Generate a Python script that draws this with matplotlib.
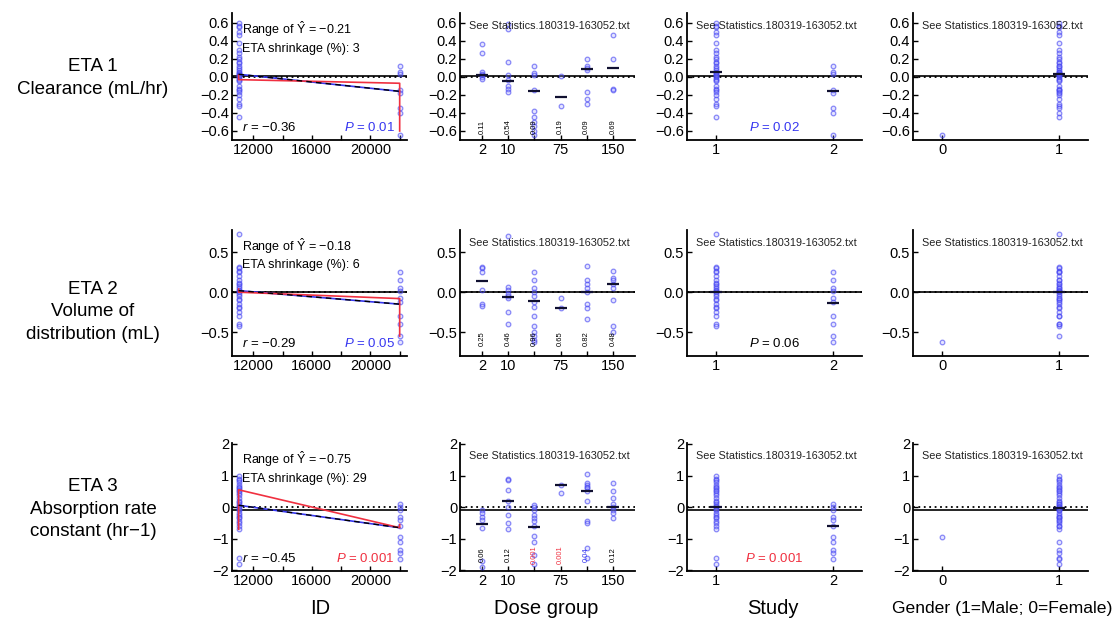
import numpy as np
import matplotlib.pyplot as plt
from matplotlib.ticker import MultipleLocator, FixedLocator, FuncFormatter

plt.rcParams['font.family'] = ['Liberation Sans', 'DejaVu Sans']
plt.rcParams['mathtext.fontset'] = 'custom'
plt.rcParams['mathtext.rm'] = 'Liberation Sans'
plt.rcParams['mathtext.it'] = 'Liberation Sans:italic'

# ---- data ----
dose_labels = ['2', '10', '', '75', '', '150']
study_x = [1, 2]
gender_x = [0, 1]
id_x = [11000, 22000]
stats_file = 'See Statistics.180319-163052.txt'

# ETA 1 - Clearance
eta1_study1 = [0.60, 0.57, 0.55, 0.50, 0.47, 0.38, 0.30, 0.27, 0.22, 0.20, 0.17, 0.15, 0.12,
               0.10, 0.08, 0.05, 0.04, 0.03, 0.02, 0.01, 0.00, -0.02, -0.03, -0.05, -0.10,
               -0.13, -0.15, -0.17, -0.20, -0.25, -0.30, -0.32, -0.45]
eta1_study2 = [0.12, 0.06, 0.03, -0.15, -0.18, -0.35, -0.40, -0.65]
eta1_gender0 = [-0.65]
eta1_dose = [[0.37, 0.27, 0.05, 0.03, 0.02, 0.00, -0.02],
             [0.59, 0.53, 0.17, 0.02, -0.03, -0.10, -0.13, -0.17],
             [0.12, 0.04, 0.02, -0.15, -0.38, -0.45, -0.50, -0.55, -0.60, -0.65],
             [0.01, -0.32],
             [0.20, 0.12, 0.10, 0.08, -0.17, -0.25, -0.30],
             [0.47, 0.20, -0.13, -0.15]]
eta1_dose_mid = [0.02, -0.04, -0.16, -0.22, 0.09, 0.10]
eta1_dose_p = [0.11, 0.54, 0.09, 0.19, 0.09, 0.69]
eta1_study_mid = [0.06, -0.16]
eta1_gender_mid = [None, 0.03]
eta1_fit = [0.03, -0.16]
eta1_smooth_y = [0.02, -0.03, -0.07, -0.60]
eta1_mean = 0.01
eta1_range = '-0.21'
eta1_shrink = 3
eta1_r = '-0.36'
eta1_p_id = 0.01
eta1_p_study = 0.02

# ETA 2 - Volume of distribution
eta2_study1 = [0.73, 0.32, 0.30, 0.27, 0.25, 0.20, 0.15, 0.12, 0.10, 0.08, 0.05, 0.03, 0.02,
               0.00, -0.02, -0.05, -0.08, -0.10, -0.15, -0.18, -0.20, -0.25, -0.30, -0.40, -0.43]
eta2_study2 = [0.25, 0.15, 0.05, 0.02, -0.07, -0.12, -0.30, -0.40, -0.55, -0.62]
eta2_gender0 = [-0.62]
eta2_dose = [[0.32, 0.30, 0.25, 0.03, -0.15, -0.17],
             [0.71, 0.07, 0.03, -0.02, -0.05, -0.07, -0.25, -0.40],
             [0.25, 0.15, 0.05, 0.00, -0.05, -0.12, -0.18, -0.30, -0.43, -0.50, -0.55, -0.60, -0.62],
             [-0.07, -0.20],
             [0.33, 0.15, 0.10, 0.05, 0.00, -0.15, -0.20, -0.33],
             [0.27, 0.18, 0.15, 0.10, 0.05, -0.10, -0.43, -0.50]]
eta2_dose_mid = [0.14, -0.06, -0.11, -0.20, 0.00, 0.10]
eta2_dose_p = [0.25, 0.46, 0.96, 0.65, 0.82, 0.48]
eta2_study_mid = [0.00, -0.13]
eta2_gender_mid = [None, 0.00]
eta2_fit = [0.02, -0.15]
eta2_smooth_y = [0.04, 0.00, -0.08, -0.55]
eta2_mean = 0.0
eta2_range = '-0.18'
eta2_shrink = 6
eta2_r = '-0.29'
eta2_p_id = 0.05
eta2_p_study = 0.06

# ETA 3 - Absorption rate constant
eta3_study1 = [1.00, 0.90, 0.85, 0.80, 0.70, 0.65, 0.60, 0.55, 0.50, 0.45, 0.40, 0.30, 0.20,
               0.15, 0.10, 0.05, 0.00, -0.05, -0.10, -0.20, -0.25, -0.30, -0.35, -0.45, -0.50,
               -0.60, -0.70, -1.60, -1.80]
eta3_study2 = [0.10, 0.00, -0.10, -0.30, -0.40, -0.60, -0.95, -1.10, -1.35, -1.45, -1.65]
eta3_gender0 = [-0.95]
eta3_dose = [[-0.10, -0.20, -0.30, -0.40, -0.65, -1.70, -1.90],
             [0.88, 0.85, 0.55, 0.20, 0.00, -0.25, -0.50, -0.70],
             [0.08, 0.02, -0.10, -0.25, -0.35, -0.45, -0.60, -0.90, -1.10, -1.50, -1.80],
             [0.70, 0.45],
             [1.05, 0.75, 0.70, 0.65, 0.60, 0.50, 0.20, -0.45, -0.50, -1.30, -1.60],
             [0.75, 0.50, 0.30, 0.10, 0.00, -0.10, -0.20, -0.35]]
eta3_dose_mid = [-0.53, 0.18, -0.62, 0.69, 0.50, 0.00]
eta3_dose_p = [0.06, 0.12, 0.001, 0.001, 0.04, 0.12]
eta3_study_mid = [0.00, -0.60]
eta3_gender_mid = [None, -0.03]
eta3_fit = [0.06, -0.65]
eta3_smooth_y = [-0.70, 0.55, -0.65, -0.55]
eta3_mean = -0.08
eta3_range = '-0.75'
eta3_shrink = 29
eta3_r = '-0.45'
eta3_p_id = 0.001
eta3_p_study = 0.001

row_titles = ['ETA 1\nClearance (mL/hr)', 'ETA 2\nVolume of\ndistribution (mL)',
              'ETA 3\nAbsorption rate\nconstant (hr\u22121)']
col_titles = ['ID', 'Dose group', 'Study', 'Gender (1=Male; 0=Female)']

rows = [
    dict(s1=eta1_study1, s2=eta1_study2, g0=eta1_gender0, dose=eta1_dose, dmid=eta1_dose_mid,
         dp=eta1_dose_p, smid=eta1_study_mid, gmid=eta1_gender_mid, fit=eta1_fit,
         smooth=eta1_smooth_y, mean=eta1_mean, rng=eta1_range, shrink=eta1_shrink, r=eta1_r,
         pid=eta1_p_id, pst=eta1_p_study, ylim=(-0.7, 0.71), ystep=0.2, fmt='%.1f', ptxt=-0.55),
    dict(s1=eta2_study1, s2=eta2_study2, g0=eta2_gender0, dose=eta2_dose, dmid=eta2_dose_mid,
         dp=eta2_dose_p, smid=eta2_study_mid, gmid=eta2_gender_mid, fit=eta2_fit,
         smooth=eta2_smooth_y, mean=eta2_mean, rng=eta2_range, shrink=eta2_shrink, r=eta2_r,
         pid=eta2_p_id, pst=eta2_p_study, ylim=(-0.8, 0.78), ystep=0.5, fmt='%.1f', ptxt=-0.58),
    dict(s1=eta3_study1, s2=eta3_study2, g0=eta3_gender0, dose=eta3_dose, dmid=eta3_dose_mid,
         dp=eta3_dose_p, smid=eta3_study_mid, gmid=eta3_gender_mid, fit=eta3_fit,
         smooth=eta3_smooth_y, mean=eta3_mean, rng=eta3_range, shrink=eta3_shrink, r=eta3_r,
         pid=eta3_p_id, pst=eta3_p_study, ylim=(-2.02, 2.03), ystep=1.0, fmt='%d', ptxt=-1.5),
]

BLUE = '#3636f0'
RED = '#f03040'
PT_EDGE = (0.25, 0.25, 0.95, 0.6)


def p_color(p):
    if p < 0.01:
        return RED
    if p <= 0.05:
        return BLUE
    return 'black'


def minus(s):
    return s.replace('-', '\u2212')


def pts(ax, x, y):
    ax.scatter(np.full(len(y), x), y, s=11, facecolors=(0.6, 0.6, 1.0, 0.25),
               edgecolors=PT_EDGE, linewidths=0.9, zorder=3)


def base(ax, row):
    ax.spines[['top', 'right']].set_visible(False)
    for s in ['left', 'bottom']:
        ax.spines[s].set_linewidth(1.3)
    ax.set_ylim(row['ylim'])
    ax.yaxis.set_major_locator(MultipleLocator(row['ystep']))
    fmt = row['fmt']
    ax.yaxis.set_major_formatter(FuncFormatter(lambda v, p: minus(fmt % (round(v) if fmt == '%d' else v))
                                               if abs(v) > 1e-9 else ('0.0' if fmt != '%d' else '0')))
    ax.tick_params(direction='in', length=3.5, width=1, labelsize=10.5, pad=2)
    ax.axhline(0, color='k', ls=(0, (1, 2)), lw=1.3, zorder=2)
    ax.axhline(row['mean'], color='k', lw=1.2, zorder=2)


W, H = 1119, 621
col_left = [232, 460, 687, 913]
row_box = [(13, 140), (230, 356), (443, 571)]
row_label_y = [78, 312, 509]

fig = plt.figure(figsize=(W / 100, H / 100), dpi=100)

for ri, row in enumerate(rows):
    top, bot = row_box[ri]
    axs = [fig.add_axes([l / W, 1 - bot / H, 175 / W, (bot - top) / H]) for l in col_left]

    # ID
    ax = axs[0]
    base(ax, row)
    pts(ax, id_x[0], row['s1'])
    pts(ax, id_x[1], row['s2'])
    ax.plot(id_x, row['fit'], color=BLUE, lw=1.2, zorder=4)
    ax.plot(id_x, row['fit'], color='k', lw=1.0, ls=(0, (4, 3)), zorder=5)
    ax.plot([id_x[0], id_x[0], id_x[1], id_x[1]], row['smooth'], color=RED, lw=1.2, zorder=4)
    ax.set_xlim(10550, 22500)
    ax.xaxis.set_major_locator(FixedLocator([12000, 14000, 16000, 18000, 20000, 22000]))
    ax.xaxis.set_major_formatter(FuncFormatter(lambda v, p: '%d' % v if v in (12000, 16000, 20000) else ''))
    ax.text(0.06, 0.875, 'Range of $\\hat{\\mathrm{Y}}$ = ' + minus(row['rng']), transform=ax.transAxes,
            fontsize=9, va='center', zorder=6)
    ax.text(0.06, 0.72, 'ETA shrinkage (%%): %d' % row['shrink'], transform=ax.transAxes,
            fontsize=9, va='center', zorder=6)
    ax.text(0.06, 0.1, '$r$ = ' + minus(row['r']), transform=ax.transAxes, fontsize=9.5,
            va='center', zorder=6)
    ax.text(0.93, 0.1, '$P$ = %g' % row['pid'], transform=ax.transAxes, fontsize=9.5,
            va='center', ha='right', color=p_color(row['pid']), zorder=6)

    # Dose group
    ax = axs[1]
    base(ax, row)
    for k, vals in enumerate(row['dose']):
        pts(ax, k + 1, vals)
        ax.plot(k + 1, row['dmid'][k], marker='_', ms=9, mew=1.6, color='#101030', zorder=5)
        p = row['dp'][k]
        ax.text(k + 1, row['ptxt'], '%g' % p, rotation=90, fontsize=5.5, ha='center', va='center',
                color=p_color(p), zorder=6)
    ax.set_xlim(0.15, 6.85)
    ax.set_xticks(range(1, 7))
    ax.set_xticklabels(dose_labels)

    # Study
    ax = axs[2]
    base(ax, row)
    pts(ax, study_x[0], row['s1'])
    pts(ax, study_x[1], row['s2'])
    for x, m in zip(study_x, row['smid']):
        ax.plot(x, m, marker='_', ms=9, mew=1.6, color='#101030', zorder=5)
    ax.set_xlim(0.75, 2.25)
    ax.set_xticks(study_x)
    ax.text(0.5, 0.1, '$P$ = %g' % row['pst'], transform=ax.transAxes, fontsize=9.5,
            va='center', ha='center', color=p_color(row['pst']), zorder=6)

    # Gender
    ax = axs[3]
    base(ax, row)
    allv = list(row['s1']) + list(row['s2'])
    g1 = list(allv)
    for v in row['g0']:
        g1.remove(v)
    pts(ax, gender_x[0], row['g0'])
    pts(ax, gender_x[1], g1)
    ax.plot(gender_x[1], row['gmid'][1], marker='_', ms=9, mew=1.6, color='#101030', zorder=5)
    ax.set_xlim(-0.25, 1.25)
    ax.set_xticks(gender_x)

    for ax in axs[1:]:
        ax.text(0.05, 0.9, stats_file, transform=ax.transAxes, fontsize=7.8, va='center',
                color='#222222', zorder=6)

    fig.text(93 / W, 1 - row_label_y[ri] / H, row_titles[ri], ha='center', va='center',
             fontsize=13.5, linespacing=1.45)

xlab_x = [320, 546, 773, 1002]
xlab_size = [14.5, 14.5, 14.5, 12.6]
for x, t, fs in zip(xlab_x, col_titles, xlab_size):
    fig.text(x / W, 1 - 608 / H, t, ha='center', va='center', fontsize=fs)

fig.savefig('out.png', dpi=100)
